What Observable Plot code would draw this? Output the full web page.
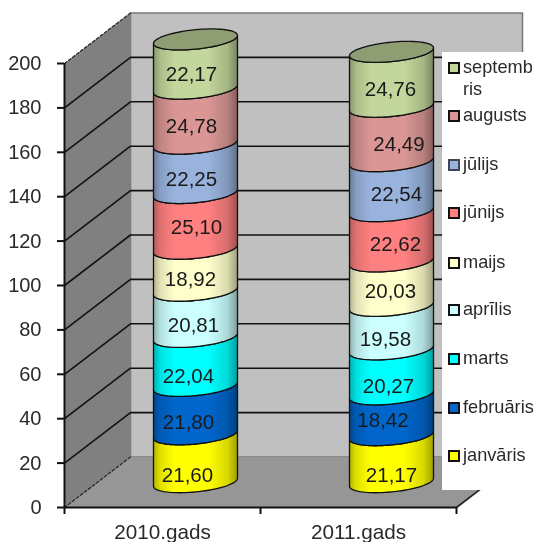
<!DOCTYPE html>
<html>
<head>
<meta charset="utf-8">
<script src="https://cdn.jsdelivr.net/npm/d3@7"></script>
<script src="https://cdn.jsdelivr.net/npm/@observablehq/plot@0.6"></script>
<style>
html,body{margin:0;padding:0;background:#fff;overflow:hidden}
#wrap{position:relative;width:537px;height:542px;overflow:hidden;filter:blur(0.4px)}
#legend{position:absolute;left:442px;top:52px;width:95px;height:438px;background:#fff;font:18.2px "Liberation Sans",Arial,sans-serif;color:#2a2a2a}
#legend .row{position:absolute;left:6px;white-space:nowrap;line-height:22px;height:22px}
#legend .sw{position:absolute;left:0;top:6px;width:8px;height:8px;border:2px solid #111;box-sizing:content-box}
#legend .tx{position:absolute;left:15px;top:0}
</style>
</head>
<body>
<div id="wrap"></div>
<script>
const years = ["2010.gads", "2011.gads"];
const months = ["janvāris", "februāris", "marts", "aprīlis", "maijs", "jūnijs", "jūlijs", "augusts", "septembris"];
const values2010 = [21.60, 21.80, 22.04, 20.81, 18.92, 25.10, 22.25, 24.78, 22.17];
const values2011 = [21.17, 18.42, 20.27, 19.58, 20.03, 22.62, 22.54, 24.49, 24.76];
const monthColors = ["#ffff00", "#0066cc", "#00ffff", "#ccffff", "#ffffcc", "#ff8080", "#99b3dd", "#d99694", "#c3d69b"];
const capColor = "#8f9e72";
const series = [values2010, values2011];

// small hand adjustments of the value labels, in pixels
const nudgeX = [[-8, -7, -7, -2, -5, 1, -4, -4, -4], [0, -8.5, -3, -6, -1, 4, 5, 7.5, -1]];
const nudgeY = [[7, 3, 5, 2, 0, -3, 1, 1, 0.5], [6.5, -3.7, 5, 2.3, -2, -1.5, -1.5, 0.6, 0.9]];

// plot geometry
const W = 537, H = 542, mL = 64, mR = 81, mT = 63, mB = 35;
const pxX = (W - mL - mR) / 2;        // pixels per category
const pxY = (H - mT - mB) / 200;      // pixels per value unit
const depthX = 66 / pxX;              // oblique depth, in x units
const depthY = 50.5 / pxY;            // oblique depth, in y units
const radX = 42 / pxX, radY = 9.7 / pxY, shear = 4 / pxY; // cylinder ellipse
const px = (x, d) => x + d * depthX;
const py = (y, d) => y + d * depthY;
const wall = (pts) => pts.map(([x, y, d]) => ({x: px(x, d), y: py(y, d)}));
const ticks = d3.range(0, 201, 20);
const theta = d3.range(0, 41).map((i) => Math.PI - (i / 40) * Math.PI); // front half, left to right

function arc(cx, v) {
  return theta.map((t) => ({
    x: cx + radX * Math.cos(t),
    y: v - radY * Math.sin(t) + shear * Math.cos(t)
  }));
}
function fullEllipse(cx, v) {
  return d3.range(0, 81).map((i) => {
    const t = (i / 80) * 2 * Math.PI;
    return {x: cx + radX * Math.cos(t), y: v - radY * Math.sin(t) + shear * Math.cos(t)};
  });
}

const cylMarks = [], labels = [];
series.forEach((vals, s) => {
  const cx = px(s + 0.5, 0.5);
  const dv = py(0, 0.5);
  let base = dv;
  vals.forEach((v, m) => {
    const top = base + v;
    const pts = [...arc(cx, base), ...arc(cx, top).reverse()];
    pts.push(pts[0]);
    cylMarks.push(Plot.line(pts, {x: "x", y: "y", fill: `url(#g${m})`, stroke: "#111", strokeWidth: 1.3, curve: "linear"}));
    labels.push({
      x: cx + nudgeX[s][m] / pxX,
      y: (base + top) / 2 - radY - nudgeY[s][m] / pxY,
      text: v.toFixed(2).replace(".", ",")
    });
    base = top;
  });
  cylMarks.push(Plot.line(fullEllipse(cx, base), {x: "x", y: "y", fill: capColor, stroke: "#111", strokeWidth: 1.3, curve: "linear"}));
});

const leftWall = wall([[0,0,0],[0,200,0],[0,200,1],[0,0,1],[0,0,0]]);
const backWall = wall([[0,0,1],[0,200,1],[2,200,1],[2,0,1],[0,0,1]]);
const floor = wall([[0,0,0],[2,0,0],[2,0,1],[0,0,1],[0,0,0]]);

const defs = () => {
  const ns = "http://www.w3.org/2000/svg";
  const d = document.createElementNS(ns, "defs");
  const shade = (c, k) => { const q = d3.rgb(c); return d3.rgb(q.r * k, q.g * k, q.b * k).formatHex(); };
  monthColors.forEach((c, i) => {
    const g = document.createElementNS(ns, "linearGradient");
    g.setAttribute("id", "g" + i);
    [[0, .7], [.08, .88], [.25, 1], [.65, 1], [.88, .85], [1, .62]].forEach(([o, k]) => {
      const st = document.createElementNS(ns, "stop");
      st.setAttribute("offset", o);
      st.setAttribute("stop-color", shade(c, k));
      g.appendChild(st);
    });
    d.appendChild(g);
  });
  return d;
};

const gridColor = "#111";
const chart = Plot.plot({
  width: W, height: H,
  marginLeft: mL, marginRight: mR, marginTop: mT, marginBottom: mB,
  style: {background: "#fff", fontFamily: "'Liberation Sans', Arial, sans-serif", overflow: "visible"},
  x: {domain: [0, 2], axis: null},
  y: {domain: [0, 200], axis: null},
  marks: [
    defs,
    Plot.line(backWall, {x: "x", y: "y", fill: "#c0c0c0", stroke: "#777", strokeWidth: 1.5}),
    Plot.line(leftWall, {x: "x", y: "y", fill: "#808080"}),
    Plot.line(floor, {x: "x", y: "y", fill: "#969696"}),
    Plot.line(wall([[0,0,0],[0,0,1]]), {x: "x", y: "y", stroke: "#222", strokeWidth: 1.2, strokeDasharray: "3,2"}),
    Plot.line(wall([[0,200,0],[0,200,1]]), {x: "x", y: "y", stroke: "#222", strokeWidth: 1.2, strokeDasharray: "3,2"}),
    ...ticks.filter((t) => t > 0 && t < 200).map((t) =>
      Plot.line(wall([[0,t,0],[0,t,1],[2,t,1]]), {x: "x", y: "y", stroke: gridColor, strokeWidth: 1.6})
    ),
    Plot.line(wall([[2,0,0],[2,0,1]]), {x: "x", y: "y", stroke: "#222", strokeWidth: 1.6}),
    ...cylMarks,
    Plot.text(labels, {x: "x", y: "y", text: "text", fontSize: 20.5, fill: "#1a1a1a", textAnchor: "middle"}),
    Plot.axisY({ticks, label: null, tickSize: 7, tickPadding: 16, fontSize: 20, stroke: "#111", strokeWidth: 2, color: "#2a2a2a"}),
    Plot.axisX({ticks: [0, 1, 2], label: null, tickSize: 7, tickFormat: () => "", stroke: "#111", strokeWidth: 2}),
    Plot.axisX({ticks: [0.5, 1.5], label: null, tickSize: 0, tickPadding: 17, tickFormat: (d) => years[d - 0.5], fontSize: 20.7, color: "#2a2a2a"}),
    Plot.ruleY([0], {stroke: "#111", strokeWidth: 2}),
    Plot.ruleX([0], {stroke: "#111", strokeWidth: 2})
  ]
});
const wrap = document.getElementById("wrap");
wrap.appendChild(chart);

// legend overlays the right of the chart, as in the original
const legend = document.createElement("div");
legend.id = "legend";
const rowTops = [4, 52, 101, 149, 199, 246, 295, 344, 392];
const order = d3.range(months.length).reverse();
rowTops.forEach((top, k) => {
  const m = order[k];
  const row = document.createElement("div");
  row.className = "row";
  row.style.top = top + "px";
  const sw = document.createElement("div");
  sw.className = "sw";
  sw.style.background = monthColors[m];
  if (m === 6) sw.style.borderColor = "#445";
  const tx = document.createElement("div");
  tx.className = "tx";
  tx.innerHTML = m === 8 ? "septemb<br>ris" : months[m];
  row.append(sw, tx);
  legend.appendChild(row);
});
wrap.appendChild(legend);
</script>
</body>
</html>
